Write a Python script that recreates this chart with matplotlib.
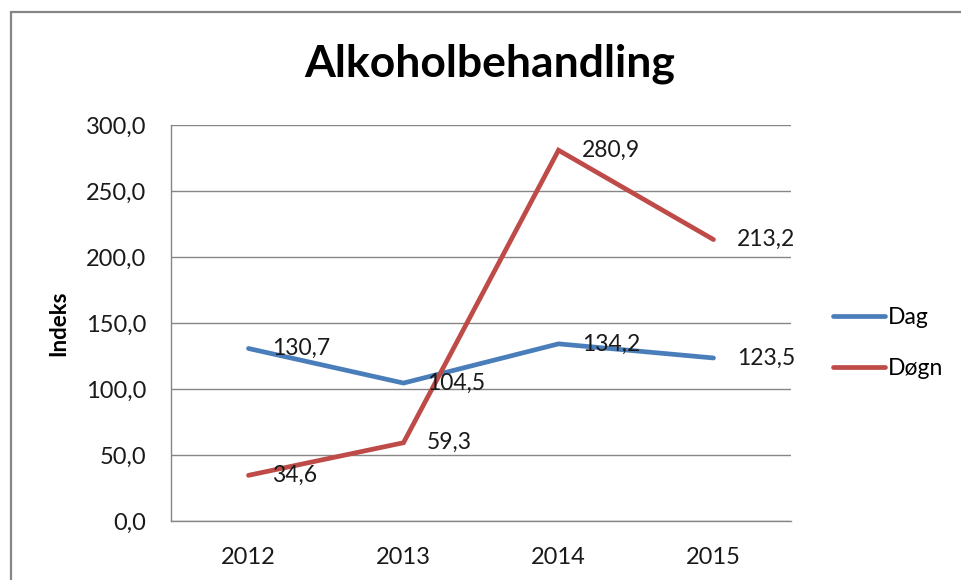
import matplotlib
matplotlib.use("Agg")
import matplotlib.pyplot as plt
from matplotlib.patches import Rectangle

plt.rcParams['font.family'] = ['Lato', 'DejaVu Sans']

years = ["2012", "2013", "2014", "2015"]
dag = [130.7, 104.5, 134.2, 123.5]
dogn = [34.6, 59.3, 280.9, 213.2]
dag_labels = ["130,7", "104,5", "134,2", "123,5"]
dogn_labels = ["34,6", "59,3", "280,9", "213,2"]
yticks = [0, 50, 100, 150, 200, 250, 300]
ytick_labels = ["0,0", "50,0", "100,0", "150,0", "200,0", "250,0", "300,0"]

W, H = 962, 580
fig = plt.figure(figsize=(W / 100, H / 100), dpi=100)
fig.patch.set_facecolor("white")

# outer chart frame (only left/top visible)
fig.add_artist(Rectangle((11 / W, -0.05), 1.2, (H - 12) / H + 0.05,
                         transform=fig.transFigure, fill=False,
                         edgecolor="#868686", linewidth=1.6))

ax = fig.add_axes([171 / W, 59 / H, 620 / W, 396 / H])
x = list(range(len(years)))
blue = "#4A7EBB"
red = "#BE4B48"
l1, = ax.plot(x, dag, color=blue, linewidth=3.4, solid_capstyle="round",
              solid_joinstyle="miter", label="Dag", zorder=3)
l2, = ax.plot(x, dogn, color=red, linewidth=3.4, solid_capstyle="round",
              solid_joinstyle="miter", label="Døgn", zorder=3)

for xi, v, t in zip(x, dag, dag_labels):
    ax.annotate(t, (xi, v), xytext=(17, 0), textcoords="offset points",
                va="center", ha="left", fontsize=16.5, color="#1a1a1a", zorder=4)
for xi, v, t in zip(x, dogn, dogn_labels):
    ax.annotate(t, (xi, v), xytext=(17, 0), textcoords="offset points",
                va="center", ha="left", fontsize=16.5, color="#1a1a1a", zorder=4)

ax.set_xlim(-0.5, 3.5)
ax.set_ylim(0, 300)
ax.set_xticks(x)
ax.set_xticklabels(years)
ax.set_yticks(yticks)
ax.set_yticklabels(ytick_labels)
ax.tick_params(axis="both", length=0, labelsize=17, labelcolor="#1a1a1a")
ax.tick_params(axis="y", pad=18)
ax.tick_params(axis="x", pad=19)
ax.grid(axis="y", color="#868686", linewidth=1.0)
ax.set_axisbelow(True)
for s in ["top", "right"]:
    ax.spines[s].set_visible(False)
for s in ["left", "bottom"]:
    ax.spines[s].set_color("#868686")
    ax.spines[s].set_linewidth(1.0)

ax.set_ylabel("Indeks", fontsize=16, fontweight="bold", labelpad=12)
fig.text(490 / W, 1 - 64 / H, "Alkoholbehandling", ha="center", va="center",
         fontsize=32, fontweight="bold", color="black")

fig.legend(handles=[l1, l2], labels=["Dag", "Døgn"], loc="center left",
           bbox_to_anchor=(812 / W, 1 - 343 / H), frameon=False, fontsize=16.5,
           handlelength=2.3, handletextpad=0.1, labelspacing=1.3)

fig.savefig("out.png", dpi=100, facecolor="white")
